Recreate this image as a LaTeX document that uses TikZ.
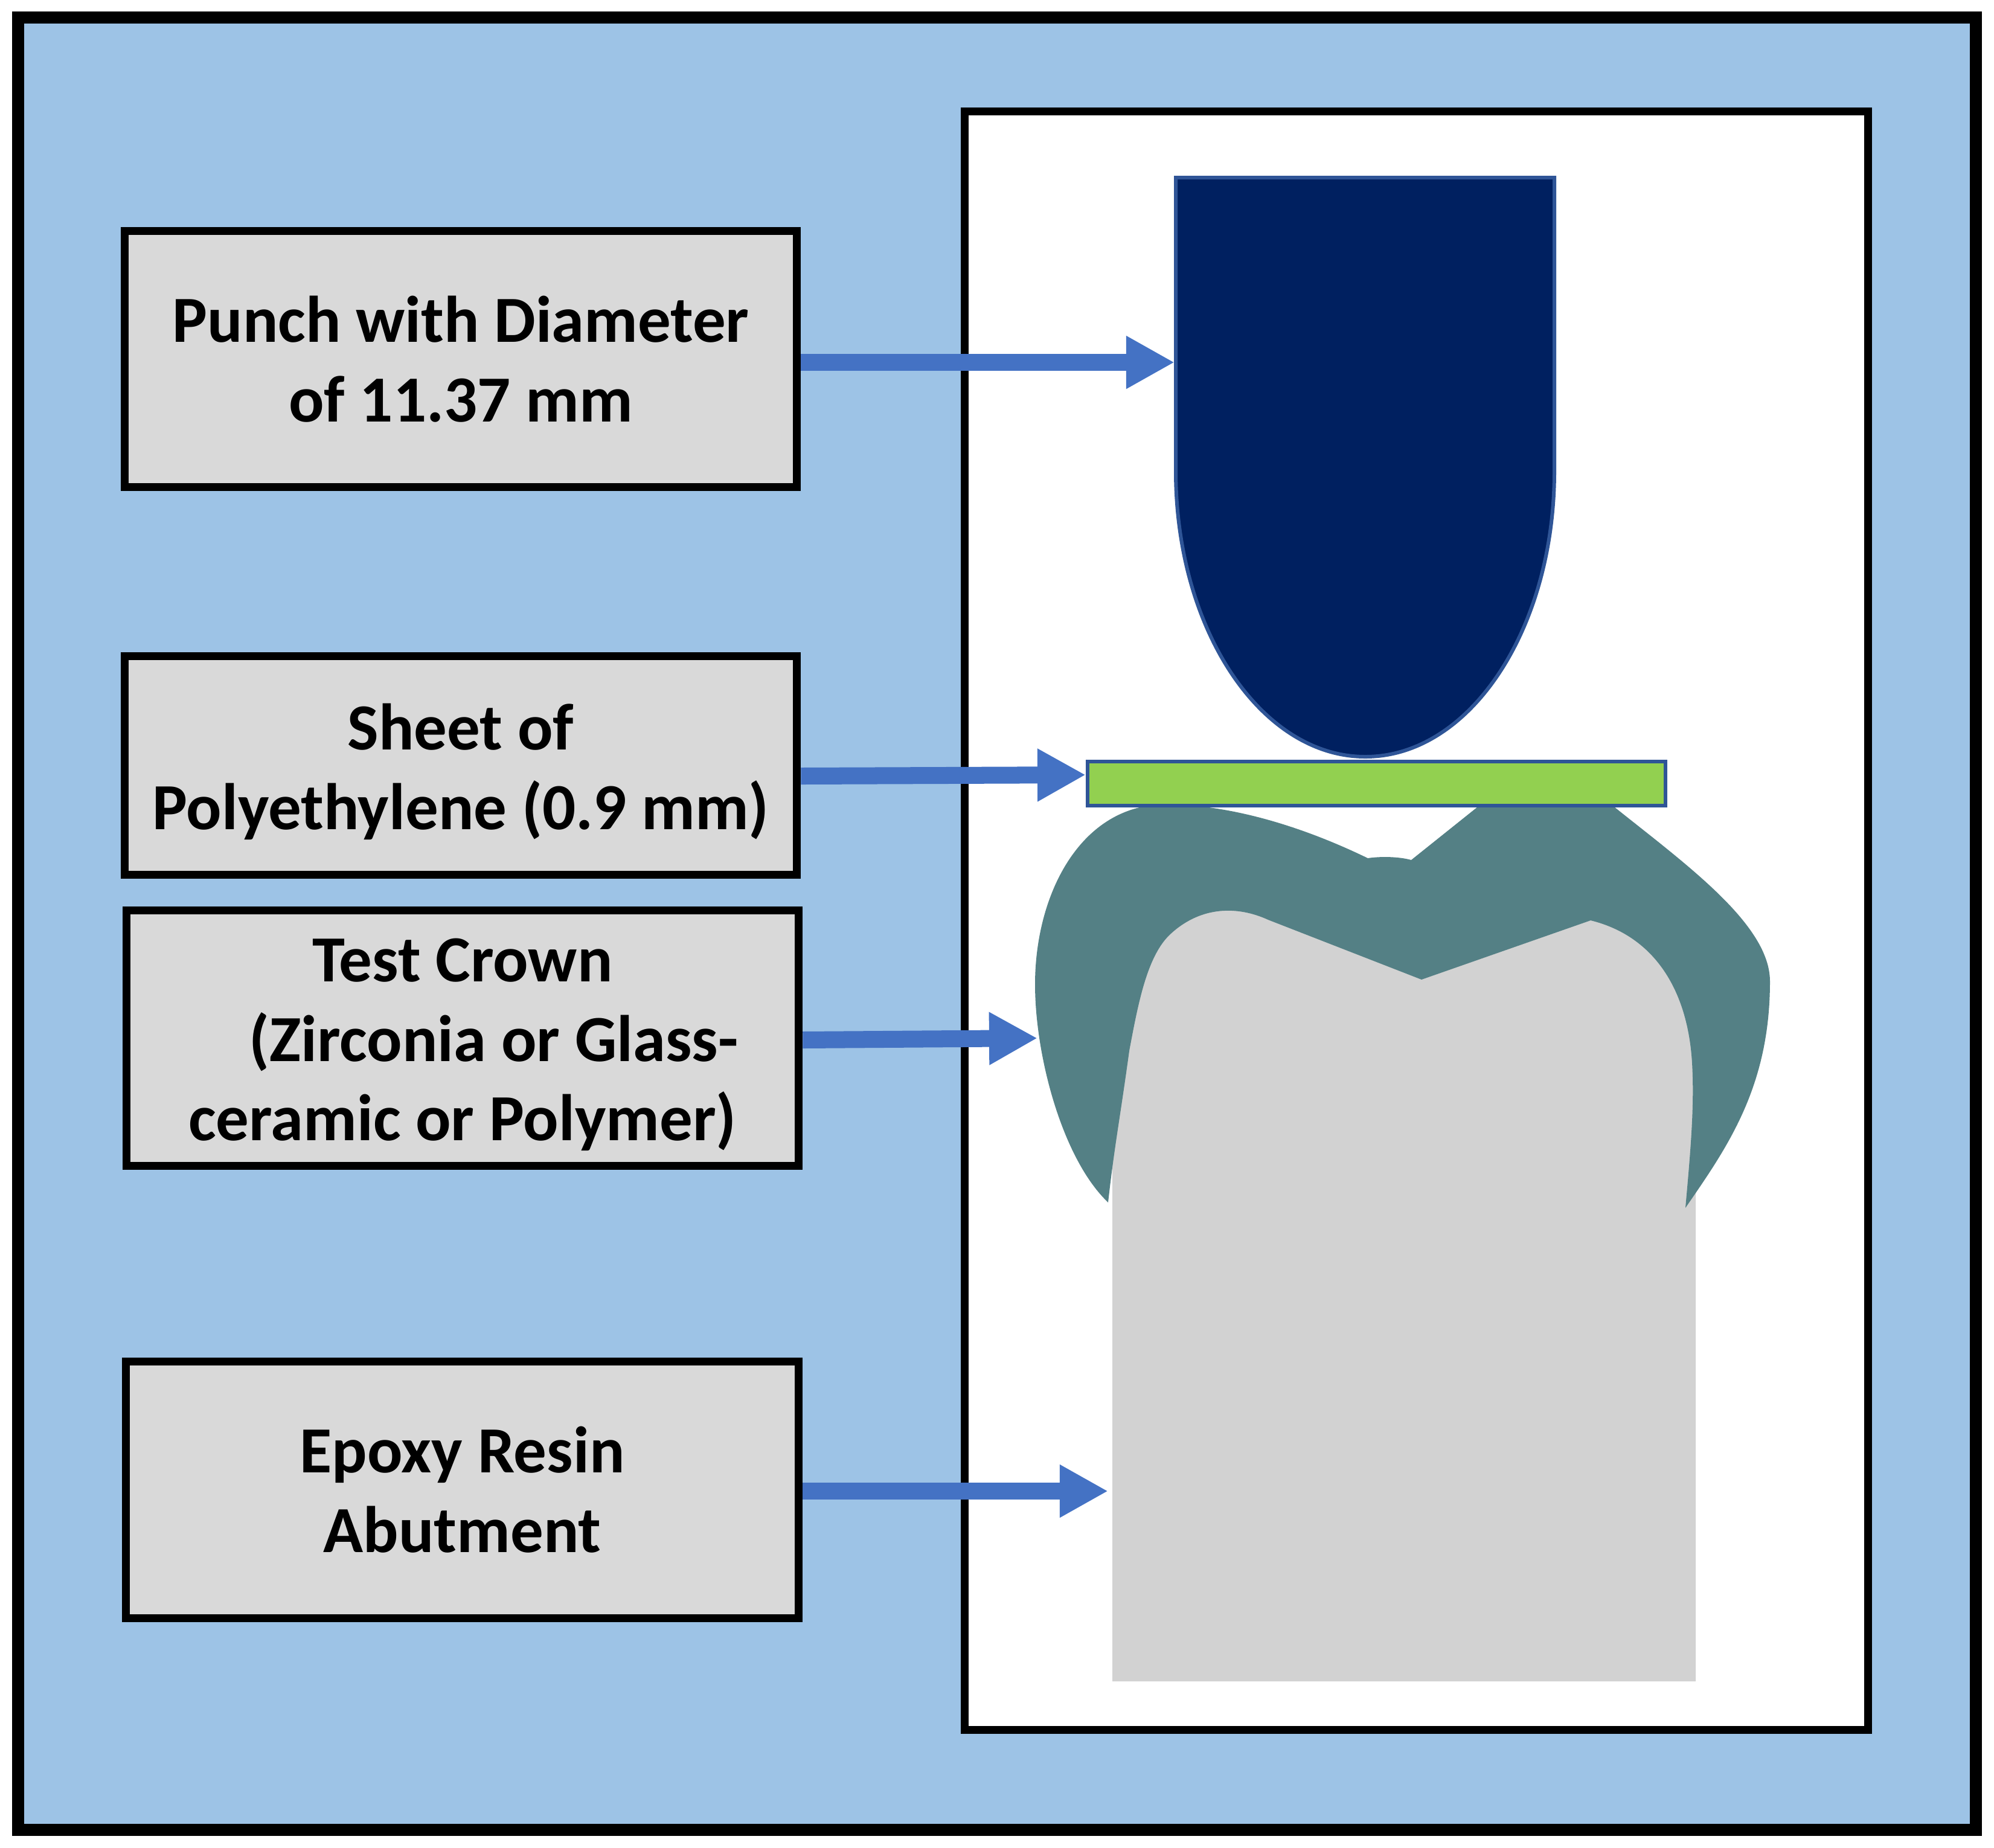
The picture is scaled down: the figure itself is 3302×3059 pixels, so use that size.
\documentclass[tikz,border=0pt]{standalone}
\usepackage{fontspec}
\setmainfont{Carlito}
\usetikzlibrary{arrows.meta}
\definecolor{panelblue}{HTML}{9DC3E6}
\definecolor{boxgray}{HTML}{D9D9D9}
\definecolor{arrowblue}{HTML}{4472C4}
\definecolor{punchnavy}{HTML}{002060}
\definecolor{edgeblue}{HTML}{2F5597}
\definecolor{sheetgreen}{HTML}{92D050}
\definecolor{crownteal}{HTML}{548085}
\definecolor{resingray}{HTML}{D2D2D2}
\tikzset{
	labelbox/.style={draw=black, line width=1.3mm, fill=boxgray, align=center, inner sep=0pt,
		minimum width=11.13cm, font=\fontsize{31}{37.5}\selectfont\bfseries},
	pointer/.style={->, arrowblue, line width=2.8mm}
}
\begin{document}
\begin{tikzpicture}[x=.01cm, y=-.01cm, >={Triangle[length=8mm, width=8.2mm]}]
	\useasboundingbox (0,0) rectangle (3302,3059);
	%Khung nền và khung trắng
	\draw[black, line width=2mm, fill=panelblue] (30,29) rectangle (3272,3030);
	\draw[black, line width=1.3mm, fill=white] (1597,184) rectangle (3093,2864);
	%Trụ nhựa và mão
	\fill[resingray] (1842,2784) -- (1842,1900) -- (1800,1600) -- (1950,1450) -- (2350,1500) -- (2700,1500) -- (2850,1650) -- (2808,1900) -- (2808,2784) -- cycle;
	\fill[crownteal] (1835,1991) .. controls (1760,1920) and (1714,1750) .. (1714,1630)
		.. controls (1714,1480) and (1790,1332) .. (1930,1332)
		.. controls (2040,1332) and (2160,1370) .. (2265,1421)
		.. controls (2285,1418) and (2315,1418) .. (2337,1424)
		-- (2452,1332) -- (2668,1332)
		.. controls (2790,1430) and (2931,1530) .. (2931,1625)
		.. controls (2931,1800) and (2860,1900) .. (2791,2000)
		.. controls (2800,1900) and (2806,1830) .. (2802,1760)
		.. controls (2795,1640) and (2740,1550) .. (2634,1524)
		-- (2354,1622) -- (2100,1523)
		.. controls (2050,1500) and (1990,1500) .. (1940,1545)
		.. controls (1900,1580) and (1885,1660) .. (1870,1740)
		.. controls (1855,1850) and (1845,1900) .. (1835,1991) -- cycle;
	%Chày và tấm polyethylene
	\draw[edgeblue, line width=.6mm, fill=punchnavy] (1947,294) -- (2574,294) -- (2574,780)
		.. controls (2574,1042) and (2434,1253) .. (2261,1253)
		.. controls (2088,1253) and (1947,1042) .. (1947,780) -- cycle;
	\draw[edgeblue, line width=.6mm, fill=sheetgreen] (1801,1261) rectangle (2758,1334);
	%Các nhãn
	\node[labelbox, minimum height=4.24cm] (punchbox) at (763,594.5) {Punch with Diameter\\of 11.37 mm};
	\node[labelbox, minimum height=3.62cm] (sheetbox) at (763,1267.5) {\rule{0pt}{27.5pt}Sheet of\\Polyethylene (0.9 mm)};
	\node[labelbox, minimum height=4.23cm] (crownbox) at (766,1719) {\rule{0pt}{26.5pt}Test Crown\\\hspace*{1.03cm}(Zirconia or Glass-\\ceramic or Polymer)};
	\node[labelbox, minimum height=4.24cm] (resinbox) at (765.5,2467) {Epoxy Resin\\Abutment};
	%Các mũi tên
	\coordinate (punchtip) at (1945,600);
	\coordinate (sheettail) at (0,1285);
	\coordinate (sheettip) at (1798,1283);
	\coordinate (crowntail) at (0,1722);
	\coordinate (crowntip) at (1718,1719);
	\coordinate (resintip) at (1835,2469);
	\draw[pointer] (punchbox.east |- punchtip) -- (punchtip);
	\draw[pointer] (sheetbox.east |- sheettail) -- (sheettip);
	\draw[pointer] (crownbox.east |- crowntail) -- (crowntip);
	\draw[pointer] (resinbox.east |- resintip) -- (resintip);
\end{tikzpicture}
\end{document}
